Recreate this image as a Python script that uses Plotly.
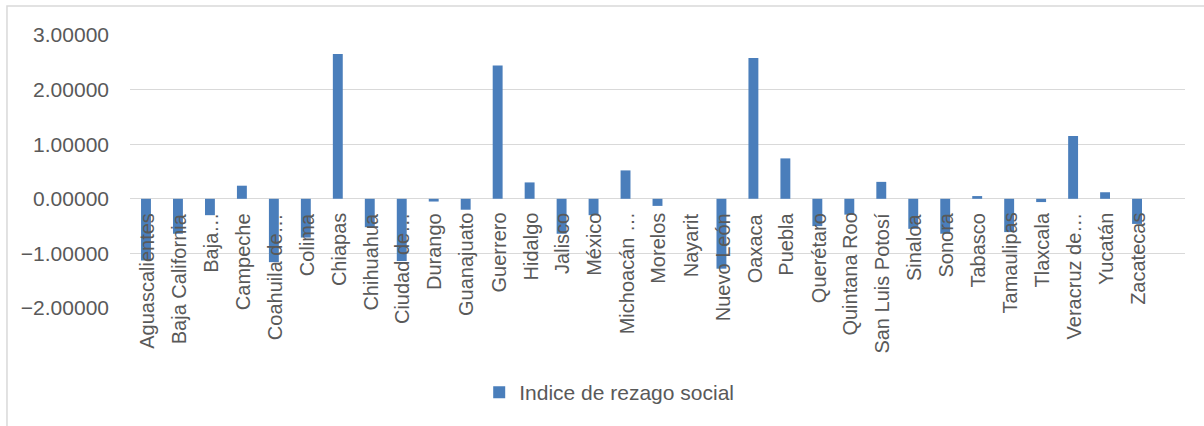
import plotly.graph_objects as go

estados = ["Aguascalientes", "Baja California", "Baja…", "Campeche", "Coahuila de…",
           "Colima", "Chiapas", "Chihuahua", "Ciudad de…", "Durango", "Guanajuato",
           "Guerrero", "Hidalgo", "Jalisco", "México", "Michoacán …", "Morelos",
           "Nayarit", "Nuevo León", "Oaxaca", "Puebla", "Querétaro", "Quintana Roo",
           "San Luis Potosí", "Sinaloa", "Sonora", "Tabasco", "Tamaulipas", "Tlaxcala",
           "Veracruz de…", "Yucatán", "Zacatecas"]
indice = [-1.13, -0.64, -0.30, 0.24, -1.16, -0.71, 2.65, -0.52, -1.14, -0.05, -0.20,
          2.44, 0.30, -0.64, -0.30, 0.52, -0.13, 0.0, -1.28, 2.58, 0.74, -0.50,
          -0.29, 0.31, -0.55, -0.64, 0.05, -0.61, -0.06, 1.15, 0.12, -0.46]
serie = "Indice de rezago social"
y_ticks = [-2, -1, 0, 1, 2, 3]

FONT = "Liberation Sans, Arial, sans-serif"
GRAY = "#595959"
GRID = "#d9d9d9"

fig = go.Figure()
fig.add_trace(go.Bar(x=estados, y=indice, name=serie, marker_color="#4A7EBB",
                     marker_line_width=0, width=0.31, showlegend=True))

for name in estados:
    fig.add_annotation(x=name, y=0, xref="x", yref="y", text=name, textangle=-90,
                       showarrow=False, yanchor="top", xanchor="center", yshift=-12,
                       xshift=1, font=dict(family=FONT, size=20, color=GRAY))

fig.add_shape(type="rect", xref="paper", yref="paper", x0=-0.1166, x1=1.2, y0=-0.6, y1=1.106,
              line=dict(color=GRID, width=1.5), fillcolor="rgba(0,0,0,0)", layer="below")

fig.update_layout(
    width=1204, height=426,
    margin=dict(l=130, r=19, t=35, b=118),
    paper_bgcolor="white", plot_bgcolor="white",
    font=dict(family=FONT, size=21, color=GRAY),
    showlegend=True,
    legend=dict(orientation="h", x=0.331, xanchor="left", y=-0.31, yanchor="middle",
                font=dict(family=FONT, size=21, color=GRAY), bgcolor="rgba(0,0,0,0)"),
    xaxis=dict(type="category", range=[-0.5, 32.5], showticklabels=False, showgrid=False,
               zeroline=False, showline=False, ticks=""),
    yaxis=dict(range=[-2, 3], tickvals=y_ticks, tickformat=".5f", showgrid=True,
               gridcolor=GRID, gridwidth=1, zeroline=True, zerolinecolor=GRID,
               zerolinewidth=1, ticks="", ticklabelstandoff=20,
               tickfont=dict(family=FONT, size=21, color=GRAY)),
    bargap=0.69,
)

fig.write_html("out.html")
